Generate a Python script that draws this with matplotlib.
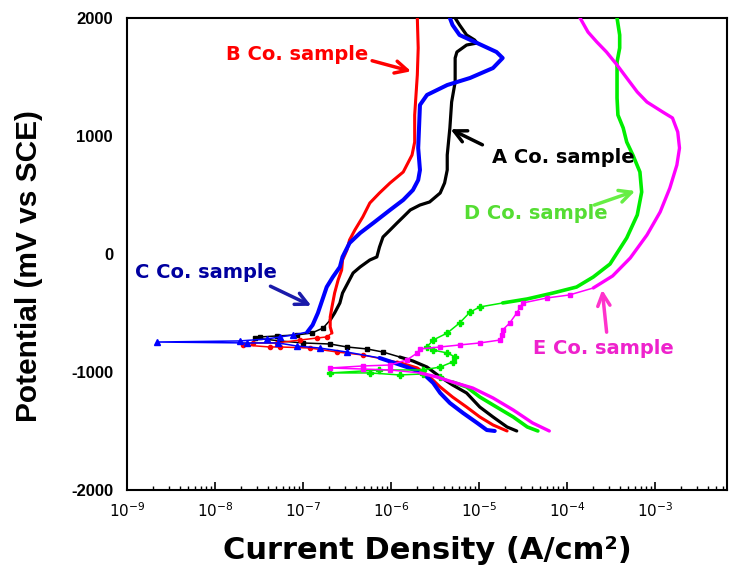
import numpy as np
import matplotlib
matplotlib.use("Agg")
import matplotlib.pyplot as plt

# ---- data: log10(current density, A/cm2) and potential (mV vs SCE) ----
a_logi = [-4.57, -4.68, -4.84, -4.99, -5.14, -5.30, -5.44, -5.59, -5.75, -5.90, -6.09, -6.27, -6.50, -6.69,
          -7.00, -7.26, -7.55, -7.49, -7.30, -7.07, -6.90, -6.77, -6.69, -6.64, -6.58, -6.55, -6.49, -6.43,
          -6.35, -6.24, -6.16, -6.13, -6.09, -6.01, -5.93, -5.86, -5.78, -5.67, -5.56, -5.44, -5.39, -5.36,
          -5.36, -5.33, -5.31, -5.27, -5.27, -5.25, -5.14, -5.02, -5.05, -5.14, -5.22, -5.27]
a_pot = [-1500, -1466, -1381, -1297, -1178, -1110, -1042, -958, -907, -873, -831, -805, -788, -763,
         -754, -737, -712, -703, -695, -686, -670, -627, -559, -500, -415, -331, -246, -161,
         -110, -51, -25, 59, 144, 203, 263, 314, 373, 415, 441, 517, 602, 712,
         839, 1068, 1288, 1458, 1661, 1712, 1771, 1788, 1814, 1856, 1941, 2000]

b_logi = [-4.68, -4.84, -4.99, -5.14, -5.30, -5.44, -5.56, -5.70, -5.93, -6.32, -6.61, -6.92, -7.26, -7.38,
          -7.68, -7.57, -7.30, -7.03, -6.84, -6.73, -6.67, -6.69, -6.69, -6.67, -6.64, -6.60, -6.56, -6.55,
          -6.50, -6.47, -6.41, -6.32, -6.24, -6.13, -6.01, -5.86, -5.76, -5.73, -5.73, -5.70, -5.69, -5.70]
b_pot = [-1500, -1449, -1381, -1297, -1212, -1127, -1042, -966, -915, -856, -831, -797, -788, -788,
         -771, -754, -754, -729, -712, -703, -670, -619, -534, -449, -331, -220, -136, -51,
         34, 119, 203, 314, 432, 517, 602, 695, 839, 949, 1178, 1517, 1746, 2000]

c_logi = [-4.82, -4.91, -5.02, -5.18, -5.33, -5.44, -5.52, -5.64, -5.82, -6.13, -6.50, -6.81, -7.07, -7.28,
          -7.64, -8.66, -7.72, -7.41, -7.26, -7.11, -6.95, -6.89, -6.83, -6.78, -6.73, -6.66, -6.58, -6.55,
          -6.47, -6.35, -6.20, -6.01, -5.86, -5.75, -5.69, -5.67, -5.69, -5.67, -5.59, -5.36, -5.10, -4.84,
          -4.73, -4.80, -5.02, -5.22, -5.30, -5.33]
c_pot = [-1500, -1492, -1432, -1348, -1263, -1178, -1093, -1009, -958, -881, -831, -797, -780, -754,
         -754, -746, -737, -720, -703, -686, -661, -602, -500, -390, -280, -195, -110, -25,
         93, 178, 263, 373, 458, 542, 627, 712, 898, 1263, 1348, 1432, 1492, 1576,
         1661, 1712, 1788, 1856, 1941, 2000]

d_logi = [-4.33, -4.45, -4.61, -4.80, -4.99, -5.14, -5.30, -5.44, -5.64, -5.90, -6.24, -6.69, -6.13, -5.64,
          -5.44, -5.30, -5.27, -5.36, -5.52, -5.59, -5.52, -5.36, -5.22, -5.10, -4.99, -4.73, -4.45, -4.16,
          -3.89, -3.70, -3.51, -3.32, -3.20, -3.15, -3.17, -3.25, -3.32, -3.36, -3.42, -3.43, -3.43, -3.43,
          -3.40, -3.40, -3.43]
d_pot = [-1500, -1466, -1381, -1297, -1212, -1127, -1085, -1042, -1017, -1025, -1008, -1008, -983, -983,
         -958, -915, -873, -839, -814, -788, -729, -670, -585, -492, -449, -415, -381, -331,
         -280, -195, -85, 136, 331, 525, 695, 839, 949, 1068, 1178, 1322, 1492, 1627,
         1746, 1856, 2000]

e_logi = [-4.20, -4.39, -4.61, -4.84, -5.07, -5.30, -5.48, -5.67, -6.01, -6.32, -6.69, -6.32, -6.01, -5.82,
          -5.70, -5.67, -5.44, -5.22, -4.99, -4.76, -4.74, -4.73, -4.65, -4.57, -4.53, -4.50, -4.23, -3.97,
          -3.70, -3.48, -3.28, -3.09, -2.94, -2.83, -2.75, -2.72, -2.74, -2.80, -2.91, -3.09, -3.20, -3.32,
          -3.43, -3.55, -3.66, -3.76, -3.85]
e_pot = [-1500, -1432, -1322, -1220, -1136, -1085, -1042, -1008, -983, -975, -966, -949, -941, -898,
         -839, -805, -788, -771, -754, -729, -686, -644, -585, -500, -449, -415, -373, -347,
         -288, -186, -34, 161, 356, 559, 754, 898, 1034, 1153, 1203, 1288, 1373, 1492,
         1602, 1712, 1797, 1881, 2000]

x_ticks = [1e-9, 1e-8, 1e-7, 1e-6, 1e-5, 1e-4, 1e-3]
x_ticklabels = [r'$10^{-9}$', r'$10^{-8}$', r'$10^{-7}$', r'$10^{-6}$', r'$10^{-5}$', r'$10^{-4}$', r'$10^{-3}$']
y_ticks = [-2000, -1000, 0, 1000, 2000]

# (name, logi, pot, colour, marker, marker size, thick lw, thin-line window near Ecorr)
series = [
    ("A", a_logi, a_pot, "#000000", "s", 3.2, 2.3, (-860, -615)),
    ("B", b_logi, b_pot, "#ff0000", "o", 3.0, 2.2, (-880, -680)),
    ("C", c_logi, c_pot, "#0000ff", "^", 4.5, 2.9, (-870, -670)),
    ("D", d_logi, d_pot, "#00ee00", "P", 4.0, 2.6, (-1050, -420)),
    ("E", e_logi, e_pot, "#ff00ff", "s", 3.2, 2.4, (-1000, -330)),
]

fig = plt.figure(figsize=(7.31, 5.70), dpi=100)
ax = fig.add_axes([0.1737, 0.1404, 0.8208, 0.828])

for name, li, pot, col, mk, ms, tlw, (lo, hi) in series:
    cur = 10 ** np.array(li)
    pot = np.array(pot, dtype=float)
    thin = (pot >= lo) & (pot <= hi)
    # thin line with markers around the corrosion potential
    ax.plot(cur, pot, color=col, lw=1.1, marker=mk, ms=ms, mec=col, mfc=col,
            markevery=list(np.where(thin)[0]), zorder=3)
    # thick (dense-data) parts away from it
    thick_pot = np.ma.masked_where(thin, pot)
    ax.plot(cur, thick_pot, color=col, lw=tlw, solid_capstyle='round', zorder=3)

ax.set_xscale('log')
ax.set_xlim(1e-9, 6.6e-3)
ax.set_ylim(-2000, 2000)

ax.set_xticks(x_ticks)
ax.set_xticklabels(x_ticklabels, fontsize=11)
ax.set_yticks(y_ticks)
ax.set_yticklabels([str(v) for v in y_ticks], fontsize=12, fontweight='bold', family='Liberation Sans')
ax.tick_params(axis='x', which='major', direction='in', length=6, width=1.2, pad=8)
ax.tick_params(axis='x', which='minor', direction='in', length=3, width=1.0)
ax.tick_params(axis='y', which='both', length=0, pad=10)
for sp in ax.spines.values():
    sp.set_linewidth(1.5)

ax.set_xlabel('Current Density (A/cm²)', fontsize=22, fontweight='bold', labelpad=12)
ax.set_ylabel('Potential (mV vs SCE)', fontsize=21.5, fontweight='bold', family='Liberation Sans', labelpad=18)
ax.yaxis.set_label_coords(-0.14, 0.475)

# ---- annotations ----
tfs = 14
arrow_kw = dict(arrowstyle='->', lw=2.5, mutation_scale=22)

ax.text(8.5e-8, 1687, 'B Co. sample', color='#ff0000', fontsize=tfs, fontweight='bold', ha='center', va='center')
ax.annotate('', xy=(1.82e-6, 1542), xytext=(5.7e-7, 1644), arrowprops=dict(color='#ff0000', **arrow_kw))

ax.text(9.0e-5, 814, 'A Co. sample', color='#000000', fontsize=tfs, fontweight='bold', ha='center', va='center')
ax.annotate('', xy=(4.46e-6, 1068), xytext=(1.17e-5, 915), arrowprops=dict(color='#000000', **arrow_kw))

ax.text(4.47e-5, 339, 'D Co. sample', color='#55dd33', fontsize=tfs, fontweight='bold', ha='center', va='center')
ax.annotate('', xy=(6.4e-4, 542), xytext=(1.92e-4, 407), arrowprops=dict(color='#66ee44', **arrow_kw))

ax.text(7.9e-9, -153, 'C Co. sample', color='#0000a0', fontsize=tfs, fontweight='bold', ha='center', va='center')
ax.annotate('', xy=(1.33e-7, -449), xytext=(4.0e-8, -263), arrowprops=dict(color='#1a1aaa', **arrow_kw))

ax.text(2.63e-4, -805, 'E Co. sample', color='#ee22cc', fontsize=tfs, fontweight='bold', ha='center', va='center')
ax.annotate('', xy=(2.5e-4, -280), xytext=(2.85e-4, -686), arrowprops=dict(color='#ff33cc', **arrow_kw))

fig.savefig('out.png', dpi=100)
